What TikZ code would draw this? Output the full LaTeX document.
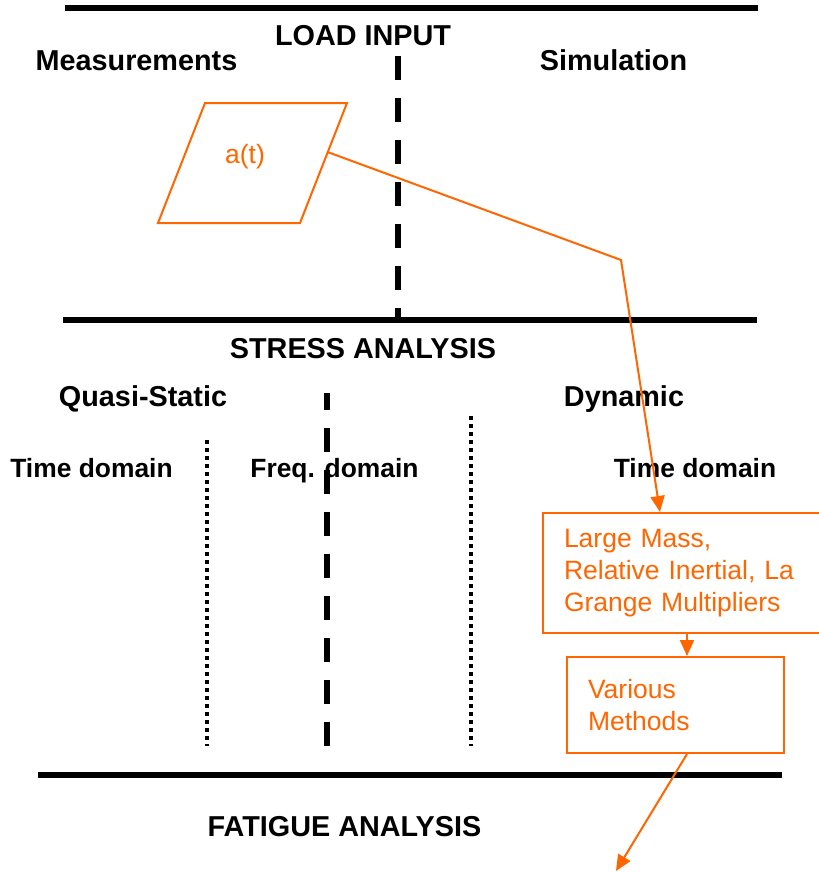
\documentclass[tikz,border=0pt]{standalone}
\usepackage{fontspec}
\setmainfont{Liberation Sans}
\usetikzlibrary{arrows.meta,positioning,calc}
\definecolor{flow}{RGB}{255,102,0}

\begin{document}
\begin{tikzpicture}[x=1pt,y=-1pt,
  rule/.style={line width=6pt},
  divider/.style={line width=5.5pt, dash pattern=on 24pt off 18pt},
  dotline/.style={line width=4pt, dash pattern=on 4pt off 4pt},
  heading/.style={anchor=base, inner sep=0pt, font=\bfseries\fontsize{28.8}{34}\selectfont},
  domaintext/.style={anchor=base, inner sep=0pt, font=\bfseries\fontsize{26.4}{32}\selectfont},
  flowbox/.style={draw=flow, line width=2pt, text=flow, align=left, anchor=north west,
    inner xsep=21pt, font=\fontsize{26.5}{32}\selectfont},
  flowline/.style={draw=flow, line width=2pt, -{Triangle[length=16pt,width=14pt]}}]
  \clip (0,0) rectangle (819,873);
  % section rules
  \draw[rule] (65,8) -- (758,8);
  \draw[rule] (63,320) -- (757,320);
  \draw[rule] (38,775) -- (782,775);
  % load input
  \node[heading] (load) at (363,45) {LOAD INPUT};
  \node[heading] (meas) at (136.5,70) {Measurements};
  \node[heading] (simu) at (613.5,70) {Simulation};
  \draw[divider] (398,56) -- (398,318);
  \draw[draw=flow, line width=2pt] (205,103) -- (347,103) -- (300,223) -- (158,223) -- cycle;
  \node[text=flow, font=\fontsize{26.5}{32}\selectfont] (accel) at (245,157) {a(t)};
  \coordinate (accelR) at (327.5,152);
  \coordinate (bend) at (621,260);
  % stress analysis
  \node[heading] (stress) at (363,358) {STRESS ANALYSIS};
  \node[heading] (quasi) at (143,406) {Quasi-Static};
  \node[heading] (dyn) at (624,406) {Dynamic};
  \node[domaintext] (qtime) at (91.5,477) {Time domain};
  \node[domaintext] (qfreq) at (334.5,477) {Freq. domain};
  \node[domaintext] (dtime) at (695,477) {Time domain};
  \draw[dotline] (207,440) -- (207,746);
  \draw[divider] (327,746) -- (327,393);
  \draw[dotline] (471,416) -- (471,746);
  \node[flowbox, minimum width=288pt, minimum height=120pt, text width=246pt] (mass)
    at (542,512) {Large Mass,\\Relative Inertial, La\\Grange Multipliers};
  \node[flowbox, minimum width=217pt, minimum height=96pt, text width=175pt] (various)
    at (566,656) {Various\\Methods};
  \coordinate (massIn) at (660,512);
  \draw[flowline] (accelR) -- (bend) -- (massIn);
  \draw[flowline] (mass.south) -- (mass.south |- various.north);
  % fatigue analysis
  \node[heading] (fatigue) at (344.5,836) {FATIGUE ANALYSIS};
  \coordinate (fatigueIn) at (616,871);
  \draw[flowline] (mass.south |- various.south) -- (fatigueIn);
\end{tikzpicture}
\end{document}
